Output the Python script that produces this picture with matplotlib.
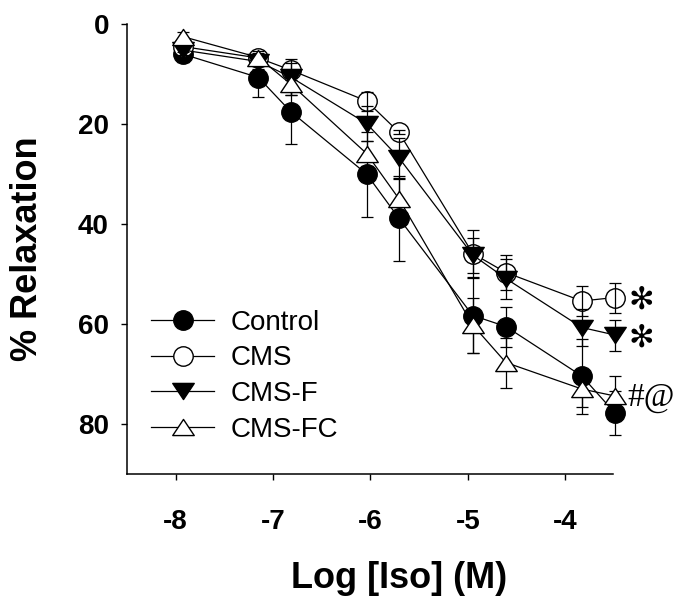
import matplotlib
matplotlib.use('Agg')
import matplotlib.pyplot as plt
from matplotlib.path import Path

# values (x against the printed -8..-4 ticks)
x_log_iso = [-7.93, -7.15, -6.82, -6.04, -5.71, -4.95, -4.61, -3.83, -3.49]

control_mean = [6.0, 10.7, 17.5, 30.0, 38.8, 58.3, 60.5, 70.4, 77.8]
control_sem = [1.5, 3.8, 6.4, 8.5, 8.5, 7.5, 4.0, 7.5, 4.4]
cms_mean = [4.5, 6.8, 9.2, 15.4, 21.6, 45.9, 49.7, 55.4, 54.7]
cms_sem = [1.0, 1.5, 1.4, 1.9, 0.4, 4.7, 3.5, 3.0, 3.0]
cmsf_mean = [5.2, 7.5, 10.6, 19.9, 26.7, 46.2, 50.9, 60.7, 62.2]
cmsf_sem = [1.0, 1.5, 3.6, 3.5, 4.0, 3.5, 4.0, 3.7, 3.1]
cmsfc_mean = [2.5, 6.7, 12.0, 25.9, 34.9, 60.2, 67.7, 73.0, 74.4]
cmsfc_sem = [1.0, 1.0, 2.2, 2.5, 4.0, 5.5, 5.0, 3.5, 4.0]

series_names = ["Control", "CMS", "CMS-F", "CMS-FC"]
x_ticks = [-8, -7, -6, -5, -4]
y_ticks = [0, 20, 40, 60, 80]

# significance marks placed next to the last point of a series
marks = [("CMS", "\u273b"), ("CMS-F", "\u273b"), ("CMS-FC", "#@")]

# flatter triangles than matplotlib's '^' / 'v'
tri_up = Path([(0, 0.75), (-1, -0.75), (1, -0.75), (0, 0.75)],
              [Path.MOVETO, Path.LINETO, Path.LINETO, Path.CLOSEPOLY])
tri_down = Path([(0, -0.75), (-1, 0.75), (1, 0.75), (0, -0.75)],
                [Path.MOVETO, Path.LINETO, Path.LINETO, Path.CLOSEPOLY])


def main():
    plt.rcParams['font.family'] = ['Liberation Sans', 'DejaVu Sans']
    plt.rcParams['axes.unicode_minus'] = False

    means = [control_mean, cms_mean, cmsf_mean, cmsfc_mean]
    sems = [control_sem, cms_sem, cmsf_sem, cmsfc_sem]
    styles = [
        dict(marker="o", ms=14, mfc="black"),
        dict(marker="o", ms=14, mfc="white"),
        dict(marker=tri_down, ms=15.5, mfc="black"),
        dict(marker=tri_up, ms=15.5, mfc="white"),
    ]

    fig = plt.figure(figsize=(6.78, 6.0), dpi=100)
    ax = fig.add_axes([0.1873, 0.21, 0.7168, 0.75])

    for i in range(len(series_names)):
        z = 2 + i
        # open circles show their bar over the symbol, the others under it
        ez = z + 0.5 if series_names[i] == "CMS" else z - 0.5
        ax.errorbar(x_log_iso, means[i], yerr=sems[i], fmt="none",
                    ecolor="black", elinewidth=0.9, capsize=4.5,
                    capthick=0.9, zorder=ez, clip_on=False)
        ax.plot(x_log_iso, means[i], color="black", linewidth=0.9,
                mec="black", mew=1.0, label=series_names[i], zorder=z,
                clip_on=False, **styles[i])

    for name, txt in marks:
        i = series_names.index(name)
        if txt == "#@":
            ax.annotate(txt, xy=(x_log_iso[-1], means[i][-1]),
                        xytext=(9, -1), textcoords="offset points",
                        fontsize=24, family=["Liberation Serif"],
                        ha="left", va="center", annotation_clip=False)
        else:
            ax.annotate(txt, xy=(x_log_iso[-1], means[i][-1]),
                        xytext=(19, -2), textcoords="offset points",
                        fontsize=22, family=["DejaVu Sans"],
                        ha="center", va="center", annotation_clip=False)

    ax.set_xlim(-8.5, -3.51)
    ax.set_ylim(90, 0)
    ax.set_xticks(x_ticks)
    ax.set_yticks(y_ticks)
    ax.spines["top"].set_visible(False)
    ax.spines["right"].set_visible(False)
    for s in ["left", "bottom"]:
        ax.spines[s].set_linewidth(1.1)
    ax.tick_params(axis="both", direction="out", length=4, width=1.0,
                   labelsize=20)
    ax.tick_params(axis="x", pad=21)
    ax.tick_params(axis="y", pad=9)
    for lab in ax.get_xticklabels() + ax.get_yticklabels():
        lab.set_fontweight("bold")

    ax.set_xlabel("Log [Iso] (M)", fontsize=26, fontweight="bold", va="center")
    ax.xaxis.set_label_coords(0.559, -0.232)
    ax.set_ylabel("% Relaxation", fontsize=26, fontweight="bold", va="center")
    ax.yaxis.set_label_coords(-0.204, 0.5)

    ax.legend(loc="upper left", bbox_to_anchor=(0.05, 0.365), frameon=False,
              fontsize=20, numpoints=1, handlelength=2.27,
              handletextpad=0.6, labelspacing=0.35, borderpad=0,
              borderaxespad=0)

    fig.savefig("out.png", dpi=100)
    plt.close(fig)


if __name__ == "__main__":
    main()
